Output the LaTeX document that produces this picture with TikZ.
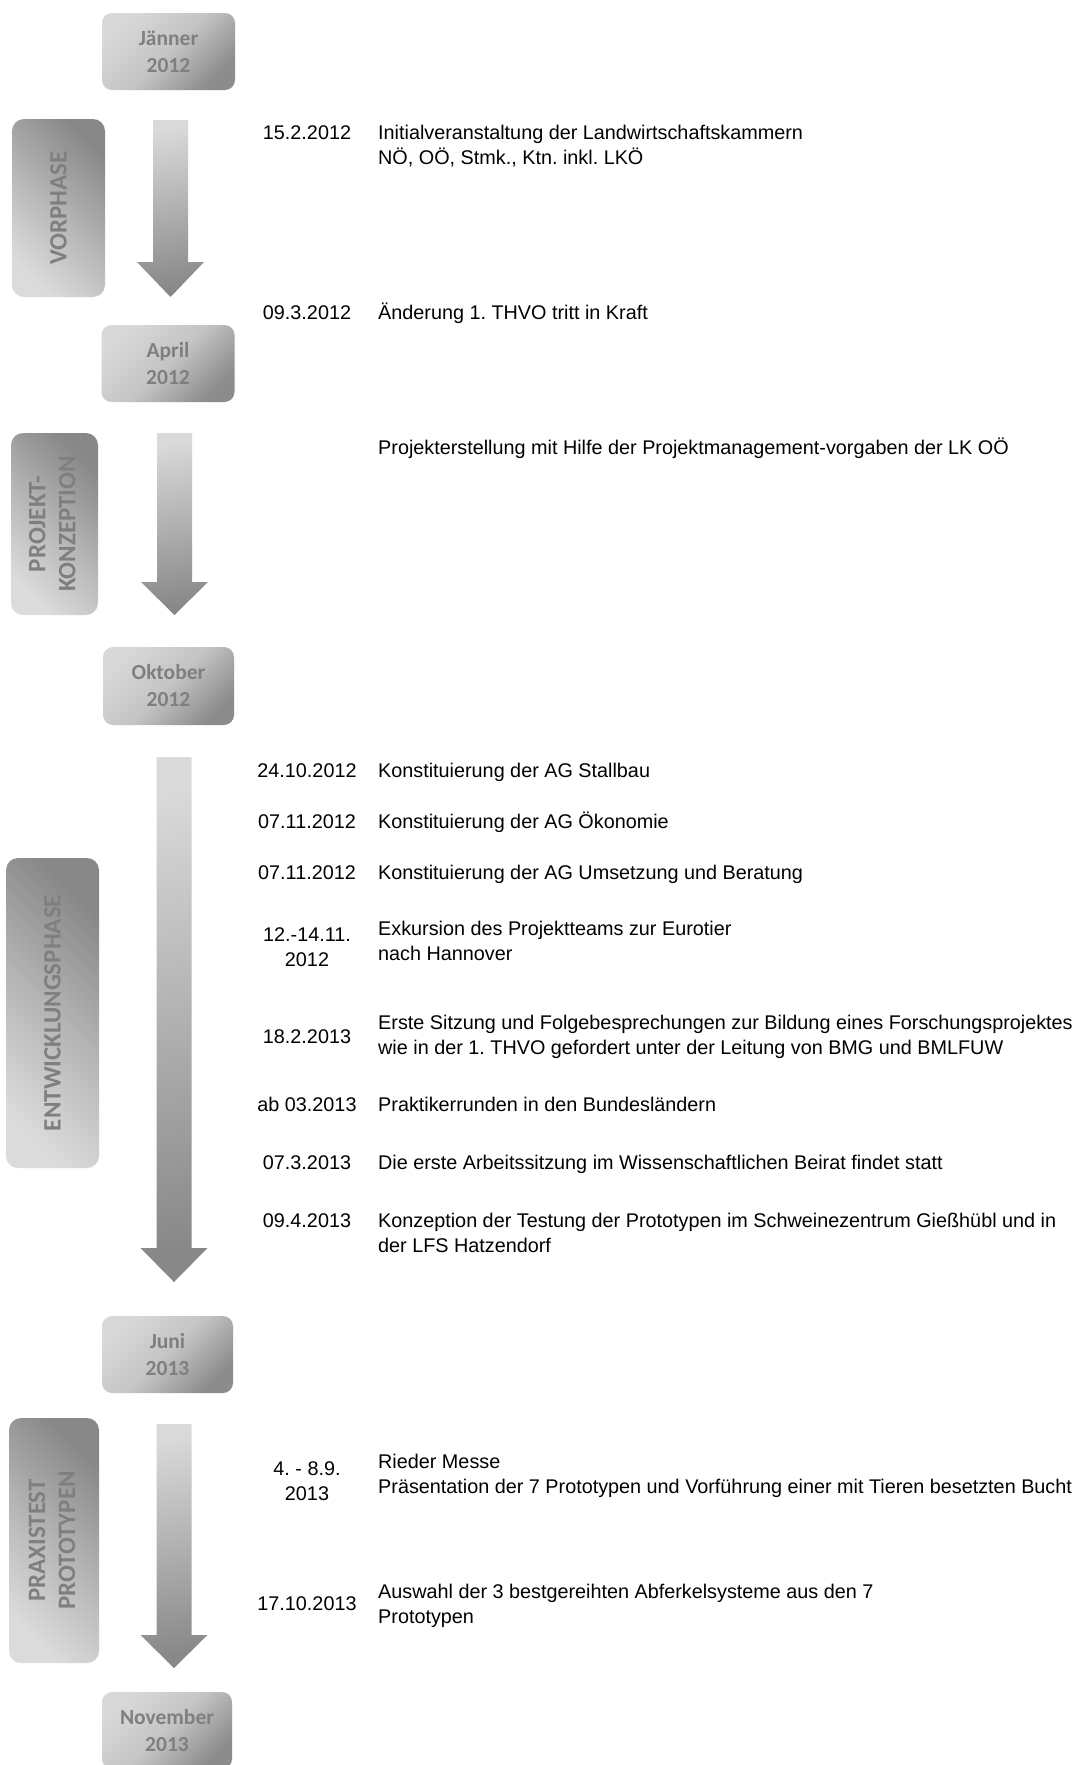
\documentclass[tikz,border=0pt]{standalone}
\usepackage{fontspec}
\setmainfont{Liberation Sans}
\newfontfamily\boxfont{Carlito}
\frenchspacing

% rows of text whose box baseline is the first row
\newcommand\txtrows[2]{\begin{tabular}[t]{@{}#1@{}}#2\end{tabular}}

\definecolor{dl}{HTML}{D8D8D8}
\definecolor{dm}{HTML}{C4C4C4}
\definecolor{dd}{HTML}{8C8C8C}
\definecolor{pl}{HTML}{DBDBDB}
\definecolor{pm}{HTML}{B4B4B4}
\definecolor{pd}{HTML}{888888}
\definecolor{al}{HTML}{DADADA}
\definecolor{ad}{HTML}{888888}
\definecolor{boxtxt}{HTML}{7F7F7F}

\tikzset{
  datebox/.style={rounded corners=10pt, minimum width=133pt, minimum height=77pt,
    inner sep=0pt, top color=dl, bottom color=dd, middle color=dm, shading angle=45,
    font=\boxfont\bfseries\fontsize{21.5}{27}\selectfont, text=boxtxt, align=center},
  phasebox/.style={rounded corners=12pt, inner sep=0pt,
    top color=pd, bottom color=pl, middle color=pm, shading angle=-45,
    font=\boxfont\bfseries\fontsize{25}{30}\selectfont, text=boxtxt},
  tlarrow/.style={top color=al, bottom color=ad, middle color=al!50!ad, shading angle=10},
  datetxt/.style={anchor=base, inner sep=0pt, font=\fontsize{19.8}{25.5}\selectfont\frenchspacing},
  desctxt/.style={anchor=base west, inner sep=0pt, font=\fontsize{19.8}{25.5}\selectfont\frenchspacing},
}

% block arrow: centre x, top y, head start y, tip y
\newcommand\blockarrow[4]{%
  \path[tlarrow] ({#1-17.5},#2) -- ({#1+17.5},#2) -- ({#1+17.5},#3) -- ({#1+33.5},#3)
    -- (#1,#4) -- ({#1-33.5},#3) -- ({#1-17.5},#3) -- cycle;}

\begin{document}
\begin{tikzpicture}[x=1pt,y=-1pt]
\path[use as bounding box, fill=white] (0,0) rectangle (1074,1765);

% month boxes
\node[datebox] (m1) at (168.5,51.5) {Jänner\\2012};
\node[datebox] (m2) at (168,363.5) {April\\2012};
\node[datebox, minimum width=131pt, minimum height=78pt] (m3) at (168.5,686) {Oktober\\2012};
\node[datebox, minimum width=131pt] (m4) at (167.5,1354.5) {Juni\\2013};
\node[datebox, minimum width=130pt] (m5) at (167,1730.5) {November\\2013};

% phase boxes
\node[phasebox, minimum width=93pt, minimum height=178pt] (p1) at (58.5,208)
  {\rotatebox{90}{VORPHASE}};
\node[phasebox, minimum width=87pt, minimum height=182pt] (p2) at (54.5,524)
  {\rotatebox{90}{\txtrows{c}{PROJEKT-\\KONZEPTION}}};
\node[phasebox, minimum width=93pt, minimum height=310pt] (p3) at (52.5,1013)
  {\rotatebox{90}{ENTWICKLUNGSPHASE}};
\node[phasebox, minimum width=90pt, minimum height=245pt] (p4) at (54,1540.5)
  {\rotatebox{90}{\txtrows{c}{PRAXISTEST\\PROTOTYPEN}}};

% time arrows
\blockarrow{170.5}{120}{262}{297}
\blockarrow{174.5}{433}{582}{615}
\blockarrow{174}{757}{1248}{1282}
\blockarrow{174}{1424}{1635}{1668}

% dates
\node[datetxt] (d1) at (307,139) {15.2.2012};
\node[datetxt] (d2) at (307,319) {09.3.2012};
\node[datetxt] (d4) at (307,777) {24.10.2012};
\node[datetxt] (d5) at (307,828) {07.11.2012};
\node[datetxt] (d6) at (307,879) {07.11.2012};
\node[datetxt] (d7) at (307,941) {\txtrows{c}{12.-14.11.\\2012}};
\node[datetxt] (d8) at (307,1043) {18.2.2013};
\node[datetxt] (d9) at (307,1111) {ab 03.2013};
\node[datetxt] (d10) at (307,1169) {07.3.2013};
\node[datetxt] (d11) at (307,1227) {09.4.2013};
\node[datetxt] (d12) at (307,1475) {\txtrows{c}{4. - 8.9.\\2013}};
\node[datetxt] (d13) at (307,1610) {17.10.2013};

% events
\node[desctxt] (e1) at (378,139)
  {\txtrows{l}{Initialveranstaltung der Landwirtschaftskammern\\NÖ, OÖ, Stmk., Ktn. inkl. LKÖ}};
\node[desctxt] (e2) at (378,319) {Änderung 1. THVO tritt in Kraft};
\node[desctxt] (e3) at (378,454) {Projekterstellung mit Hilfe der Projektmanagement-vorgaben der LK OÖ};
\node[desctxt] (e4) at (378,777) {Konstituierung der AG Stallbau};
\node[desctxt] (e5) at (378,828) {Konstituierung der AG Ökonomie};
\node[desctxt] (e6) at (378,879) {Konstituierung der AG Umsetzung und Beratung};
\node[desctxt] (e7) at (378,935)
  {\txtrows{l}{Exkursion des Projektteams zur Eurotier\\nach Hannover}};
\node[desctxt] (e8) at (378,1029)
  {\txtrows{l}{Erste Sitzung und Folgebesprechungen zur Bildung eines Forschungsprojektes\\wie in der 1. THVO gefordert unter der Leitung von BMG und BMLFUW}};
\node[desctxt] (e9) at (378,1111) {Praktikerrunden in den Bundesländern};
\node[desctxt] (e10) at (378,1169) {Die erste Arbeitssitzung im Wissenschaftlichen Beirat findet statt};
\node[desctxt] (e11) at (378,1227)
  {\txtrows{l}{Konzeption der Testung der Prototypen im Schweinezentrum Gießhübl und in\\der LFS Hatzendorf}};
\node[desctxt] (e12) at (378,1468)
  {\txtrows{l}{Rieder Messe\\Präsentation der 7 Prototypen und Vorführung einer mit Tieren besetzten Bucht}};
\node[desctxt] (e13) at (378,1598)
  {\txtrows{l}{Auswahl der 3 bestgereihten Abferkelsysteme aus den 7\\Prototypen}};
\end{tikzpicture}
\end{document}
